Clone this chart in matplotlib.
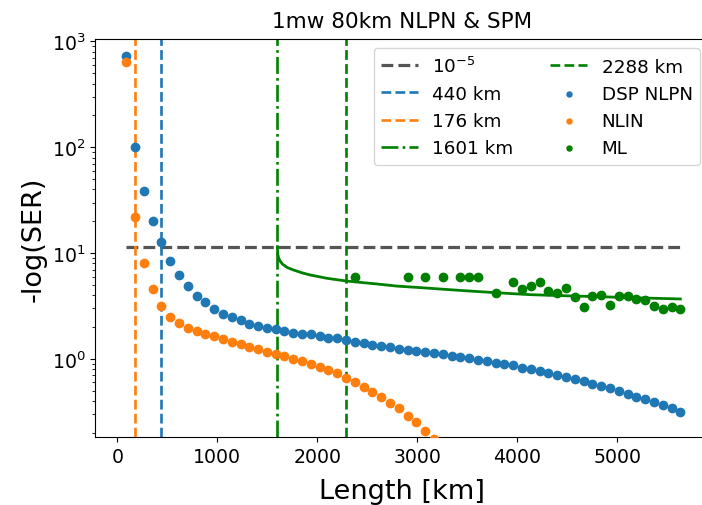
import matplotlib
matplotlib.use("Agg")
import matplotlib.pyplot as plt
import numpy as np

# ---- data ----
step_km = 88
dsp_k = list(range(1, 65))
dsp_nlpn = [721, 101, 38.3, 20.2, 12.6, 8.51, 6.25, 4.86, 3.96, 3.43,
            2.97, 2.68, 2.48, 2.32, 2.14, 2.06, 1.96, 1.91, 1.85, 1.77,
            1.72, 1.71, 1.64, 1.58, 1.57, 1.52, 1.46, 1.42, 1.36, 1.34,
            1.29, 1.24, 1.22, 1.18, 1.17, 1.13, 1.11, 1.07, 1.04, 1.02,
            0.985, 0.951, 0.917, 0.903, 0.872, 0.828, 0.805, 0.776, 0.738, 0.711,
            0.681, 0.648, 0.616, 0.585, 0.556, 0.529, 0.496, 0.470, 0.441, 0.416,
            0.393, 0.368, 0.342, 0.318]
nlin_k = list(range(1, 37))
nlin = [642, 22.1, 8.06, 4.55, 3.19, 2.51, 2.19, 1.98, 1.85, 1.72,
        1.64, 1.56, 1.46, 1.40, 1.30, 1.24, 1.17, 1.11, 1.06, 1.00,
        0.957, 0.903, 0.846, 0.792, 0.733, 0.666, 0.602, 0.547, 0.491, 0.438,
        0.384, 0.342, 0.292, 0.252, 0.210, 0.176]
ml_k = [27, 33, 35, 37, 39, 40, 41, 43, 45, 46, 47, 48, 49, 50, 51, 52, 53,
        54, 55, 56, 57, 58, 59, 60, 61, 62, 63, 64]
ml = [5.99, 5.99, 5.99, 5.99, 5.99, 5.99, 5.99, 4.17, 5.30, 4.61, 4.89, 5.33,
      4.42, 4.17, 4.65, 3.88, 3.08, 3.91, 4.02, 3.24, 3.91, 3.91, 3.66, 3.58,
      3.15, 2.97, 3.08, 2.98]
fit_km = [1601, 1602, 1605, 1612, 1625, 1650, 1700, 1764, 1850, 1931, 2098,
          2291, 2598, 2798, 3031, 3464, 3800, 4132, 4500, 4799, 5200, 5632]
fit_val = [11.5, 10.6, 9.8, 9.1, 8.5, 7.9, 7.3, 6.92, 6.5, 6.21, 5.78,
           5.45, 5.11, 4.88, 4.72, 4.42, 4.22, 4.05, 3.95, 3.88, 3.78, 3.69]
ser_thresh = 11.51  # -ln(1e-5)
thresh_span = [88, 5632]
vlines_km = [440, 176, 1601, 2288]
vline_labels = ["440 km", "176 km", "1601 km", "2288 km"]
xticks = [0, 1000, 2000, 3000, 4000, 5000]

dsp_x = [k * step_km for k in dsp_k]
nlin_x = [k * step_km for k in nlin_k]
ml_x = [k * step_km for k in ml_k]

fig = plt.figure(figsize=(7.02, 5.06), dpi=100)
ax = fig.add_axes([0.136, 0.1338, 0.874, 0.787])

h0, = ax.plot(thresh_span, [ser_thresh, ser_thresh], ls="--", color="#555555",
              lw=2.3, label=r"$10^{-5}$")
h1 = ax.axvline(vlines_km[0], ls="--", color="tab:blue", lw=1.9, label=vline_labels[0])
h2 = ax.axvline(vlines_km[1], ls="--", color="tab:orange", lw=1.9, label=vline_labels[1])
h3 = ax.axvline(vlines_km[2], ls="-.", color="green", lw=1.9, label=vline_labels[2])
ax.plot(fit_km, fit_val, color="green", lw=2.0)
h4 = ax.axvline(vlines_km[3], ls="--", color="green", lw=1.9, label=vline_labels[3])
h5 = ax.scatter(dsp_x, dsp_nlpn, color="tab:blue", s=36, label="DSP NLPN", zorder=3)
h6 = ax.scatter(nlin_x, nlin, color="tab:orange", s=36, label="NLIN", zorder=3)
h7 = ax.scatter(ml_x, ml, color="green", s=36, label="ML", zorder=3)

ax.set_yscale("log")
ax.set_xlim(-219, 5919)
ax.set_ylim(0.182, 1052)
ax.set_xticks(xticks)
ax.tick_params(axis="both", labelsize=13.6)
ax.set_xlabel("Length [km]", fontsize=19.5, labelpad=8.5)
ax.set_ylabel("-log(SER)", fontsize=19.5)
ax.set_title("1mw 80km NLPN & SPM", fontsize=15.5, pad=9)

ax.legend(handles=[h0, h1, h2, h3, h4, h5, h6, h7], ncol=2, loc="upper right",
          fontsize=13.2, markerscale=0.6)

fig.savefig("out.png", dpi=100)
